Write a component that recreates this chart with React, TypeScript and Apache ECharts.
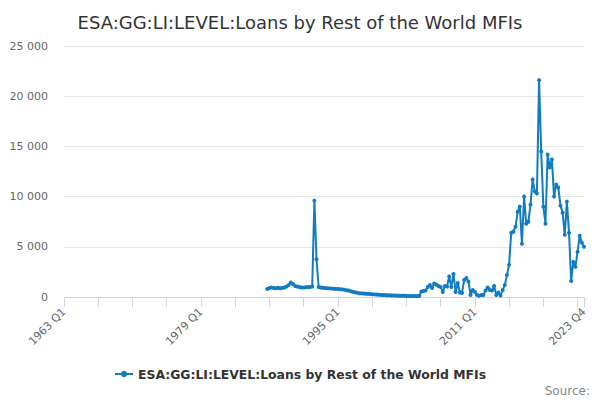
import React, { useEffect, useRef } from "react";
import * as echarts from "echarts";

const TITLE = "ESA:GG:LI:LEVEL:Loans by Rest of the World MFIs";
const SERIES_NAME = "ESA:GG:LI:LEVEL:Loans by Rest of the World MFIs";
const FIRST_YEAR = 1963;
const LAST_YEAR = 2023;
const DATA_START = "1986 Q4";

// Quarterly values from 1986 Q4 to 2023 Q4
const values1986to1996 = [
  800, 900, 950, 900, 880, 920, 870, 900, 950, 1050, 1200, 1450, 1300, 1100,
  1050, 1000, 950, 950, 980, 1000, 1000, 1050, 9600, 3750, 1000, 950, 930, 900,
  880, 860, 840, 830, 810, 800, 780, 760, 720, 680, 640,
];
const values1996to2004 = [
  580, 520, 470, 420, 380, 360, 340, 320, 310, 300, 280, 260, 250, 230, 210,
  200, 190, 180, 170, 160, 150, 140, 135, 130, 120, 115, 110, 105, 100, 100, 95,
  95, 100,
];
const values2004to2015 = [
  550, 600, 650, 1000, 1200, 900, 1350, 1250, 1100, 1000, 500, 1100, 1050, 2050,
  1000, 2300, 500, 1400, 450, 400, 1700, 1900, 1550, 200, 700, 500, 200, 130,
  200, 200, 650, 950, 700, 650, 1100, 200, 450, 150, 700, 1200, 2200, 3200,
];
const values2015to2023 = [
  6400, 6500, 7000, 8500, 9000, 5300, 10000, 7300, 7500, 9200, 11700, 10500,
  10300, 21600, 14500, 9000, 7300, 14200, 12900, 13700, 10000, 11200, 10900,
  9100, 8400, 6200, 9500, 6400, 1600, 3500, 3000, 4500, 6100, 5400, 5000,
];

const categories: string[] = [];
for (let y = FIRST_YEAR; y <= LAST_YEAR; y++) {
  for (let q = 1; q <= 4; q++) categories.push(`${y} Q${q}`);
}

const observed = [
  ...values1986to1996,
  ...values1996to2004,
  ...values2004to2015,
  ...values2015to2023,
];
const startIndex = categories.indexOf(DATA_START);
const seriesData: (number | null)[] = categories.map((_, i) =>
  i >= startIndex && i - startIndex < observed.length ? observed[i - startIndex] : null
);

const LABEL_STEP = 64;
const TICK_STEP = 16;
const LAST = categories.length - 1;

const FONT = "DejaVu Sans";
const LINE_COLOR = "#117cc2";

function fmt(v: number) {
  return String(v).replace(/\B(?=(\d{3})+(?!\d))/g, " ");
}

export default function App() {
  const ref = useRef<HTMLDivElement>(null);
  useEffect(() => {
    document.body.style.margin = "0";
    if (!ref.current) return;
    const chart = echarts.init(ref.current, undefined, { renderer: "svg" });
    chart.setOption({
      animation: false,
      textStyle: { fontFamily: FONT },
      title: {
        text: TITLE,
        left: "center",
        top: 8,
        textStyle: { fontFamily: FONT, fontSize: 18, fontWeight: "normal", color: "#333333" },
      },
      grid: { left: 64, right: 16, top: 46, bottom: 103, containLabel: false },
      legend: {
        bottom: 15,
        left: "center",
        itemWidth: 18,
        itemHeight: 8,
        itemGap: 8,
        textStyle: { fontFamily: FONT, fontSize: 12.4, fontWeight: "bold", color: "#333333" },
        data: [{ name: SERIES_NAME }],
      },
      xAxis: {
        type: "category",
        data: categories,
        boundaryGap: false,
        axisLine: { lineStyle: { color: "#ccd6eb" } },
        axisTick: {
          length: 10,
          lineStyle: { color: "#ccd6eb" },
          interval: (i: number) => i % TICK_STEP === 0 || i === LAST,
        },
        axisLabel: {
          rotate: 45,
          color: "#666666",
          fontSize: 11,
          fontFamily: FONT,
          margin: 13,
          interval: (i: number) => i % LABEL_STEP === 0 || i === LAST,
        },
        splitLine: { show: false },
      },
      yAxis: {
        type: "value",
        min: 0,
        max: 25000,
        interval: 5000,
        axisLine: { show: false },
        axisTick: { show: false },
        axisLabel: {
          color: "#666666",
          fontSize: 11,
          fontFamily: FONT,
          margin: 16,
          formatter: (v: number) => fmt(v),
        },
        splitLine: { lineStyle: { color: "#e6e6e6" } },
      },
      series: [
        {
          name: SERIES_NAME,
          type: "line",
          data: seriesData,
          connectNulls: false,
          symbol: "circle",
          symbolSize: 4,
          showSymbol: true,
          showAllSymbol: true,
          lineStyle: { color: LINE_COLOR, width: 2 },
          itemStyle: { color: LINE_COLOR },
        },
      ],
      graphic: [
        {
          type: "text",
          right: 10,
          bottom: 3,
          style: { text: "Source:", fontFamily: FONT, fontSize: 12, fill: "#888888" },
        },
      ],
    });
    return () => chart.dispose();
  }, []);
  return <div ref={ref} style={{ width: 600, height: 400 }} />;
}
